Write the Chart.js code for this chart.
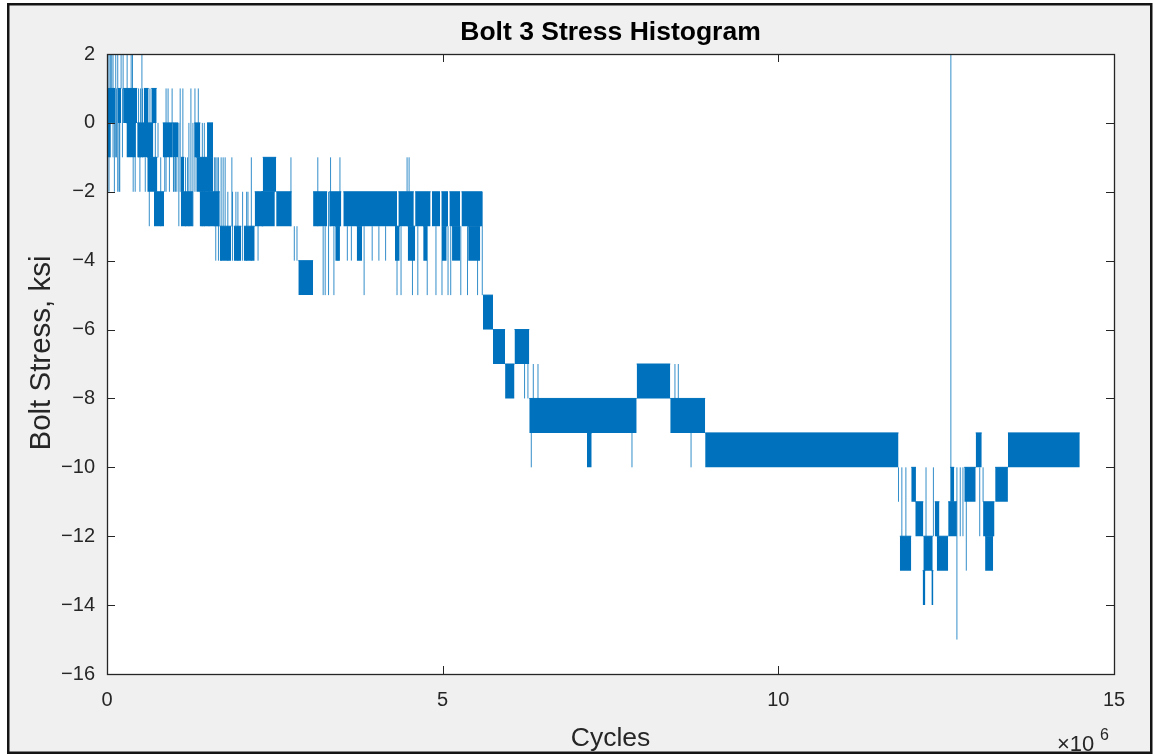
<!DOCTYPE html>
<html><head><meta charset="utf-8">
<script src="https://cdn.jsdelivr.net/npm/chart.js@4.4.1/dist/chart.umd.min.js"></script>
<style>html,body{margin:0;padding:0;background:#fff;}canvas{display:block}</style>
</head><body>
<canvas id="c" width="1154" height="756"></canvas>
<script>
// ---- chart texts ----
const titleText = 'Bolt 3 Stress Histogram';
const xLabel = 'Cycles';
const yLabel = 'Bolt Stress, ksi';
const xExponent = '6';

// ---- tick values ----
const xTicks = [0, 5, 10, 15];          // x in units of 10^6 cycles
const yTicks = [-16, -14, -12, -10, -8, -6, -4, -2, 0, 2];

// ---- dense (solid) stretches of the trace: start/end cycles (x10^6), lower/upper stress (ksi) ----
const blockStart = [0.00,0.00,0.16,0.24,0.29,0.45,0.55,0.66,0.60,0.70, 0.83,0.97,1.10,1.10,1.30,1.33,1.38,1.49,1.68,1.89, 2.04,2.20,2.32,2.30,2.52,2.85,3.07,3.31,3.40,3.52, 3.72,4.29,4.34,4.48,4.59,4.71,4.84,4.98,4.99,5.10, 5.14,5.28,5.38,5.60,5.75,5.93,6.07,6.29,7.15,7.89, 8.39,8.91,11.81,11.98,12.04,12.16,12.15,12.28,12.33,12.36, 12.53,12.56,12.77,12.94,13.05,13.08,13.23,13.42];
const blockEnd   = [0.12,0.05,0.21,0.45,0.43,0.69,0.62,0.74,0.75,0.85, 0.97,1.06,1.28,1.15,1.39,1.58,1.68,1.58,1.85,2.00, 2.20,2.33,2.52,2.50,2.75,3.07,3.28,3.49,3.47,4.32, 3.80,4.36,4.57,4.59,4.82,4.77,4.96,5.08,5.06,5.26, 5.26,5.59,5.56,5.75,5.93,6.07,6.29,7.89,7.22,8.39, 8.91,11.79,11.98,12.05,12.16,12.30,12.19,12.31,12.40,12.53, 12.66,12.62,12.94,13.03,13.22,13.20,13.42,14.49];
const blockLow   = [0,-1,0,0,-1,-1,0,0,-2,-3, -1,-1,-3,-2,-1,-2,-3,-1,-4,-4, -4,-3,-2,-3,-3,-5,-3,-3,-4,-3, -4,-4,-3,-4,-3,-4,-3,-3,-4,-3, -4,-3,-4,-6,-7,-8,-7,-9,-10,-8, -9,-10,-13,-11,-12,-13,-14,-14,-12,-13, -12,-11,-11,-10,-12,-13,-11,-10];
const blockHigh  = [1,0,1,1,0,0,1,1,-1,-2, 0,0,-2,-1,0,-1,-2,0,-3,-3, -3,-2,-1,-2,-2,-4,-2,-2,-3,-2, -3,-3,-2,-3,-2,-3,-2,-2,-3,-2, -3,-2,-3,-5,-6,-7,-6,-8,-9,-7, -8,-9,-12,-10,-11,-12,-13,-13,-11,-12, -11,-10,-10,-9,-11,-12,-10,-9];

// ---- isolated excursions of the trace: cycles (x10^6), from / to stress (ksi) ----
const spikeX    = [0.00,0.03,0.07,0.13,0.16,0.19,0.21,0.24,0.30,0.36, 0.38,0.52,0.39,0.42,0.49,0.57,0.63,0.91,0.97,1.00, 1.04,1.09,1.13,1.25,1.31,1.36,1.20,1.60,1.64,1.73, 1.76,1.86,1.92,2.10,2.74,2.79,2.83,3.14,3.22,3.25, 3.30,3.33,3.47,3.38,3.44,3.58,3.64,3.83,3.95,4.05, 4.15,4.47,4.50,4.32,4.38,4.55,4.63,4.77,4.90,4.99, 5.08,5.12,5.27,5.37,5.52,5.59,6.22,6.27,6.32,6.35, 6.42,7.82,8.46,8.51,8.70,11.79,11.84,11.90,12.20,12.31, 12.57,12.66,12.71,12.75,12.80,13.00,13.05,
                   0.01,0.05,0.09,0.11,0.14,0.18,0.23,0.47,0.50,0.53, 0.64,0.72,0.76,0.80,0.86,0.88,0.93,0.99,1.02,1.07, 1.17,1.22,1.28,1.42,1.45,1.52,1.62,1.66,1.70,1.80, 1.87,1.95,2.02,2.08,2.15,2.25];
const spikeLow  = [-2,-2,1,-1,-2,-2,1,1,1,1, 1,0,-2,-2,-2,-2,-3,0,0,-2, -2,-2,-2,-2,-2,-1,-2,-3,-3,-3, -3,-3,-3,-3,-3,-4,-4,-3,-5,-5, -5,-3,-3,-5,-4,-4,-4,-5,-4,-4, -4,-2,-2,-5,-5,-5,-5,-5,-5,-5, -5,-5,-5,-5,-5,-5,-8,-8,-10,-9, -9,-10,-8,-8,-10,-11,-12,-12,-12,-12, -10,-15,-12,-12,-13,-12,-11,
                   -2,-1,-1,-2,-1,-2,-1,-1,-1,-1, -1,-2,-1,-3,-2,-2,-2,-2,-2,-3, -3,-3,-3,-3,-3,-3,-4,-4,-4,-4, -4,-4,-4,-4,-4,-4];
const spikeHigh = [2,2,2,2,2,1,2,2,2,2, 2,2,0,0,0,-1,-1,1,1,-1, -1,1,1,1,1,1,-1,-1,-1,-1, -1,-1,-2,-2,-1,-3,-3,-1,-3,-3, -2,-1,-1,-3,-3,-3,-3,-3,-3,-3, -3,-1,-1,-3,-3,-3,-3,-3,-3,-3, -3,-3,-3,-3,-3,-2,-7,-7,-8,-7, -7,-9,-7,-7,-9,-10,-10,-10,-10,-10, 2,-10,-10,-10,-10,-10,-10,
                   2,2,2,1,1,1,1,1,1,1, 1,1,0,-1,0,1,0,0,0,0, -1,0,0,0,0,0,-1,-1,-1,-2, -2,-2,-2,-2,-1,-2];

const BLUE = '#0072BD';
const FONT = '"Liberation Sans", Arial, Helvetica, sans-serif';
const L = 107, R = 1114, T = 54, B = 674, W = 1154, H = 756;

const datasets = [];
for (let i = 0; i < blockStart.length; i++) {
  datasets.push({
    data: [{x: blockStart[i], y: blockHigh[i]}, {x: blockEnd[i], y: blockHigh[i]}],
    fill: {value: blockLow[i]},
    backgroundColor: BLUE, borderColor: BLUE, borderWidth: 1,
    pointRadius: 0, tension: 0
  });
}
const spikeData = [];
spikeX.forEach((x, i) => { spikeData.push({x, y: spikeLow[i]}, {x, y: spikeHigh[i]}, {x, y: null}); });
datasets.push({data: spikeData, borderColor: 'rgba(0,114,189,0.8)', borderWidth: 1, pointRadius: 0, fill: false, spanGaps: false});

const fmt = v => (v < 0 ? '\u2212' + Math.abs(v) : String(v));

const frame = {
  id: 'frame',
  beforeDraw(chart) {
    const c = chart.ctx, a = chart.chartArea;
    c.save();
    c.fillStyle = '#ffffff'; c.fillRect(0, 0, W, H);
    c.fillStyle = '#f0f0f0'; c.fillRect(8, 4, 1144, 749);
    c.strokeStyle = '#141414'; c.lineWidth = 2.5; c.strokeRect(8.25, 4.25, 1143, 748.5);
    c.fillStyle = '#ffffff'; c.fillRect(a.left, a.top, a.right - a.left, a.bottom - a.top);
    c.restore();
  },
  afterDraw(chart) {
    const c = chart.ctx, a = chart.chartArea, xs = chart.scales.x, ys = chart.scales.y;
    c.save();
    c.strokeStyle = '#262626'; c.lineWidth = 1;
    c.beginPath();
    yTicks.forEach(v => {
      const p = Math.round(ys.getPixelForValue(v)) + 0.5;
      c.moveTo(a.left, p); c.lineTo(a.left + 8, p);
      c.moveTo(a.right, p); c.lineTo(a.right - 8, p);
    });
    xTicks.forEach(v => {
      const p = Math.round(xs.getPixelForValue(v)) + 0.5;
      c.moveTo(p, a.bottom); c.lineTo(p, a.bottom - 8);
      c.moveTo(p, a.top); c.lineTo(p, a.top + 8);
    });
    c.stroke();
    c.lineWidth = 1.3;
    c.strokeRect(Math.round(a.left) + 0.5, Math.round(a.top) + 0.5, Math.round(a.right - a.left), Math.round(a.bottom - a.top));
    // title
    c.fillStyle = '#000';
    c.font = 'bold 26.5px ' + FONT; c.textAlign = 'center'; c.textBaseline = 'alphabetic';
    c.fillText(titleText, (a.left + a.right) / 2, 40);
    // axis labels
    c.fillStyle = '#262626';
    c.font = '26.5px ' + FONT;
    c.fillText(xLabel, (a.left + a.right) / 2, 746);
    c.save();
    c.translate(50, 353);
    c.rotate(-Math.PI / 2);
    c.font = '29.5px ' + FONT;
    c.fillText(yLabel, 0, 0);
    c.restore();
    // exponent
    c.textAlign = 'left';
    c.font = '22px ' + FONT;
    c.fillText('\u00d710', 1057, 751);
    c.font = '16px ' + FONT;
    c.fillText(xExponent, 1100, 740);
    c.restore();
  }
};

new Chart(document.getElementById('c'), {
  type: 'line',
  data: {datasets},
  plugins: [frame],
  options: {
    responsive: false, animation: false, events: [],
    layout: {padding: {left: 0, right: W - R, top: T, bottom: 0}},
    plugins: {legend: {display: false}, title: {display: false}, tooltip: {enabled: false}},
    scales: {
      x: {
        type: 'linear', min: 0, max: 15,
        afterFit: s => { s.height = H - B; },
        afterBuildTicks: s => { s.ticks = xTicks.map(v => ({value: v})); },
        grid: {display: false}, border: {display: false},
        ticks: {callback: fmt, color: '#262626', font: {size: 20, family: FONT}, padding: 6, maxRotation: 0, autoSkip: false}
      },
      y: {
        type: 'linear', min: -16, max: 2,
        afterFit: s => { s.width = L; },
        afterBuildTicks: s => { s.ticks = yTicks.map(v => ({value: v})); },
        grid: {display: false}, border: {display: false},
        ticks: {callback: fmt, color: '#262626', font: {size: 20, family: FONT}, padding: 4, autoSkip: false}
      }
    }
  }
});
</script>
</body></html>
